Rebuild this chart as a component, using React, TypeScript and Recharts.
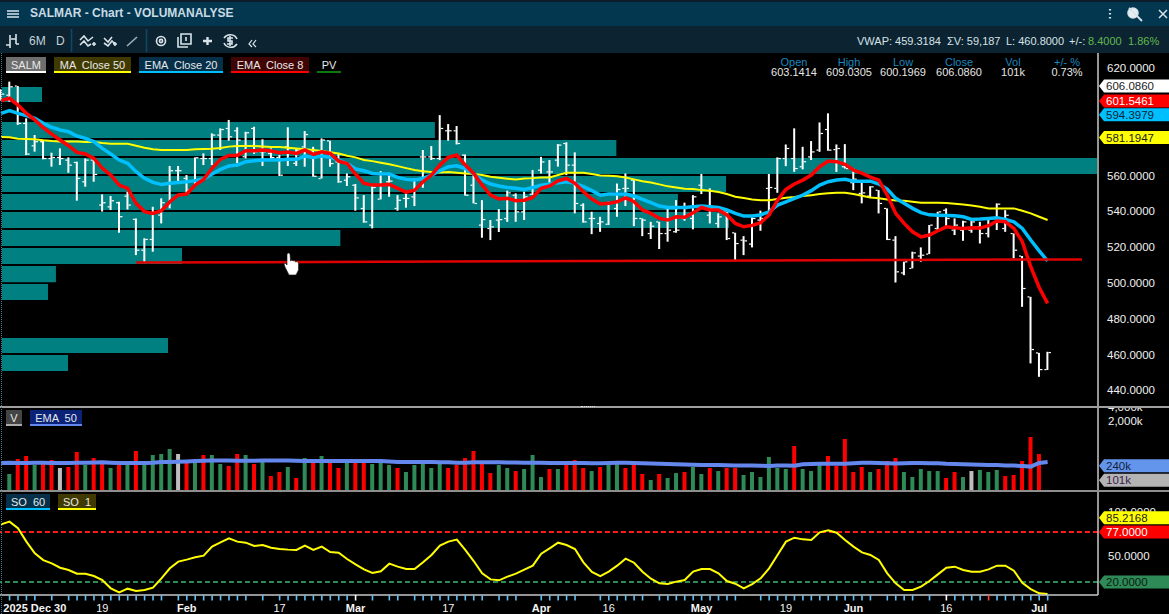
import React from "react";
import { ComposedChart, Bar, Line, Cell, XAxis, YAxis, ReferenceArea, ReferenceLine } from "recharts";

const FONT = '"Liberation Sans", Arial, sans-serif';
const X_DOMAIN: [number, number] = [-1.126, 128.97];
const PV_START = -0.89;

const highs = [608.1,612.4,610,591.9,582.6,579.8,572.7,575.1,570.1,567.7,569.5,568.6,549.4,548.5,545.3,550.9,536,524.9,542.5,547.2,565.3,565.3,560.2,570.1,572.3,583.5,586.3,591,586.9,584.4,587.2,580.2,575.1,571.4,586.9,575.1,
584.8,576,580.7,579.4,572.3,561.1,555.2,549,554.1,562.4,560.2,549,550,558.3,574.2,576.4,593.7,588.7,587.6,571.7,560.2,546.2,535.1,541.2,551.5,550,550.9,563,570.4,568.6,577.5,578.5,572.9,544.4,539.7,536.9,
545.3,555.5,561.1,557.4,536,534.1,534.1,541.6,546.2,544.8,549,560.8,552.8,538.8,539.7,528,526.1,536.6,540.3,560.8,570.1,577.3,586.3,576,579.2,589.6,594.7,577.3,577.5,
564.1,556.5,554,551.8,541.6,526.1,511.8,517.4,519.8,532.3,539.7,541.6,536,534.7,535.4,534.1,536.5,544.4,540.6,527.6,515,492.2,460.9,461.5];
const lows = [601.8,601.2,588.2,571.4,573.3,569,564.9,565.8,561.5,545.9,553.7,556.5,539.8,540.7,528,541,515.5,511.3,517.4,533.2,541.6,556.5,550,553.7,565.8,565.8,574.2,579.4,566.8,569.5,572,565.3,569.5,559.7,565.3,565.3,
564.9,559.3,558.3,564.9,555.9,554.1,540.3,533.6,530.4,546.6,548.1,540.3,542,542.9,553.1,568.6,568.6,579.4,577.3,548.7,544.4,525.2,523.9,528.4,534.1,534.1,535.1,549,561.1,553.7,564.9,560.2,538.8,533.6,527.2,528.5,
532.3,536.9,542.9,531.7,526.1,524.5,518.9,523,528,534.7,529.9,549.6,533.2,530.8,523.9,512.4,515.5,519.8,529.1,537.9,550.3,565.2,562,563.4,568.6,573.2,573.8,562,563.9,
551.8,544.4,547.7,538.8,523.9,500.2,504.3,508.1,511.8,516.1,529.5,531.3,526.7,523.5,528,522,525.4,529.5,528.5,513.6,486.6,455,447.5,451.3];
const opens = [606.2,604.9,610,589.1,576.6,578.9,569.5,570.1,568.6,567.3,556.5,568.6,543.5,542.5,544.8,548.5,535.5,518.3,524.3,537.9,544,562.7,558.4,553.7,569.5,569.5,582.6,586.3,585,570.5,586.3,573.3,572.3,570.1,576.1,566.8,
576,573.2,558.3,579.4,567.6,557.4,554.6,541.6,532.3,546.8,556.5,541.6,547.2,548.1,570.4,570.4,569.5,585,585,571.4,554.6,532.3,530.4,535.1,536,549,539.7,549.6,563,562,568.6,577.9,565.8,543.4,536,533.2,
532.8,541.6,552.8,557.4,536,527.6,534.1,527.6,528.6,536,536,554.6,537.9,533.2,539.7,528,523.9,521.7,535.1,552.8,552.8,569.5,569.5,564.9,570.4,574.2,585.7,574.5,564.9,
556,550,548.5,551.8,541.6,523.9,505.6,508.1,515,516.1,530.4,540.6,529.5,529.5,529.5,531.3,527.6,536,530.4,527.6,515,492.2,460.9,451.6];
const closes = [605.5,609.6,589.1,572,578.9,569.5,570.1,569.5,565.8,558.4,568.6,560.6,544.8,545.9,537,543.5,518.3,524.3,539.8,544.8,562.7,562.7,551.9,569.9,569.5,582.6,585.7,581.6,579.8,583.9,573.3,573.3,570.1,560.2,575.1,574.2,
582.9,559.6,579.8,566.7,556.5,559.3,547.5,534.1,553.3,561.1,556.9,546.2,547.2,557.8,570.4,569.5,586.3,585,577.9,549,544.4,535.4,531.3,535.4,550.3,539.7,548.1,554.1,567.6,562,577,565.8,544.4,534.1,536,534.1,
544.4,552.2,552.8,536,535.1,531.7,527.6,529.5,529.5,541.6,548.1,551.8,541.6,536.9,524.8,522,523.5,536,536,553.3,569.5,575.1,563.9,567.7,573.2,583.5,574.2,575.1,563.9,
558,550.3,553.7,544.4,524.3,506.2,511.8,516.8,515.5,532.3,539.7,536,532.3,534.1,534.1,527.6,536,544,537.8,518.3,496.9,462.8,451.6,461.1];

const ema8 = [601.8,603.1,599.3,594.7,591,586.7,583.1,579.8,576.6,572.9,572,569.5,564,560.2,554.6,552.8,544.4,539.8,538.8,540.3,545.3,549.1,549.6,554.6,557.8,564,569,571.2,571.2,573.8,573.8,574.2,573.6,572.7,573.1,572.3,
574.2,571.8,573.2,572.3,568,566.7,560.8,555.6,554.6,554.6,555,552.8,550.7,551.8,556.5,560.2,565.8,570.1,571.4,565.8,561.1,554.6,549,546.8,547.2,545.9,546.2,547.7,552.8,554.1,557,558.3,555.6,550.9,546.8,544,
544.4,545.3,547.5,545.3,540.7,538.8,536,535.1,536.9,536.6,539.2,542.1,540.7,540.7,537.9,533.2,531.3,532.1,533.6,537.9,546.2,552.2,555.2,557.4,560.2,564.9,568,567.7,566.2,
563,561.3,559.1,557.4,549,538.8,533.2,528.5,525.7,526.7,529.1,531.3,530.8,530.4,530.8,530.6,531.9,534.5,534.1,530.4,523,509,497.4,488.5];
const ema20 = [594.7,596.2,594.7,593.4,591.9,589.1,586.9,585.4,584.4,582,580.7,578.9,575.1,572,568.6,566.8,562.1,558.4,556.1,555,555.6,556.1,556.5,557.1,558,560.8,563.4,565.3,565.8,567.7,568.2,568.6,568.6,568.6,569,569,
570.8,570.1,570.8,570.1,568.6,566.7,563.6,562.6,561.1,560.8,560.8,558.9,557.8,557.4,558.3,560.2,562.6,564.9,565.4,563.9,560.8,557.4,555.2,554.1,553.3,552.8,552.2,553.3,554.6,555.2,555.9,556.5,555.6,553.7,551.5,549,
549.6,549.6,549.6,548.5,546.6,544.8,542.9,542.1,542.1,542.1,542.5,542.9,542.5,542.1,540.7,538.8,537.3,537.3,537.9,539.7,543.4,545.3,547.2,549,551.5,554.6,556.5,557.4,557.8,
556.8,556.8,556.8,555.2,552.4,547.2,544.4,541.6,539.2,538,537.8,537.6,537.5,536.9,535.4,535.6,536,536.4,535.4,534.1,530.4,523.9,517.9,512.2];
const ma50 = [581.5,581.3,580.5,580.3,580.2,579.6,579.2,579,579,579,578.7,578.7,578.1,577.7,577.7,577.7,576.6,575.5,574.6,574.2,574.2,574.2,574.2,574.6,574.8,574.9,575.3,576.1,576.4,576.4,576.4,576.1,575.9,575.9,575.5,575.1,
574.7,574.2,573.6,573,572.3,571,570.1,568.6,568,567.1,566.2,565.2,564.1,563,562.4,561.9,561.7,561.9,561.5,561.1,560.8,560.2,559.3,558.7,558.2,557.8,558.3,558.5,558.9,558.9,560.2,561.5,561.5,561.5,560.8,560,
559.8,559.6,558.9,557.8,556.7,556.1,555,553.9,553.3,552.6,552.4,551.8,551.5,550.7,549.6,548.1,547.4,546.6,546.2,546.2,546.8,547.5,547.9,548.5,549,549.6,550,550.3,550.3,
549.6,548.6,547.7,547.3,546.6,546,545.9,545.3,544.7,544.7,544.7,544.6,544.2,543.8,543.2,542.5,541.6,541.6,541.6,541.6,540.3,538.8,536.9,535.1];

const volumes = [null,145,305,354,227,250,290,195,205,431,227,320,250,195,227,238,453,250,371,390,500,390,290,250,371,371,238,216,390,371,238,276,131,160,205,119,320,290,354,250,195,262,276,250,238,250,227,195,
160,227,238,195,238,195,227,320,453,250,152,227,195,168,186,371,125,186,186,238,290,195,168,205,250,250,195,227,145,108,145,119,152,160,205,145,195,168,195,195,138,160,125,337,195,186,
580,186,168,262,354,216,820,160,205,160,186,276,320,160,125,186,168,168,119,160,125,168,177,160,177,131,138,276,906,390,66];
const volumeKinds = "x" + "grrgrrnrrgrrgrgrggggnrgrggrrgrgrrgrgrgrrgrrgggr" + "gggggrrrrrrggrgggrgrrrgrggrrrgrggrggrgrrgggggg" + "rgggrrrrrgrrrgggggrrgngggrrrrrg";
const ema50Vol = [250,254,250,250,254,254,250,250,250,254,254,256,258,254,250,250,250,250,254,262,262,266,270,276,280,284,284,284,280,280,280,284,284,284,284,280,276,276,276,276,276,276,276,276,276,276,270,264,
262,262,262,262,258,258,254,254,258,258,258,258,256,256,252,252,254,250,250,250,250,250,248,248,250,254,252,250,246,244,240,238,236,232,230,226,226,226,224,222,220,220,218,216,222,220,
218,234,238,240,240,240,240,246,252,252,250,246,244,246,250,250,248,246,240,238,236,232,230,226,226,222,220,216,209,250,262,240].slice(0,125);

const so1 = [85.7,88.8,81.2,66,52.7,45,41.3,36.3,33.7,29.5,29.5,26.8,22.3,12.8,8.2,12.4,9.7,10.9,13.5,24.2,35.6,43.2,45.5,48.1,50,60.3,65.2,69.8,66,64.8,61,62.2,59.1,57.6,56.9,56.5,61.4,56.5,60.3,54.2,53.4,46.2,40.1,34.4,30.3,32.2,40.9,37.5,
34.8,34.8,42.4,50.8,61.4,66,68.3,56.5,43.9,29.9,23,21.9,26.1,29.5,34.1,38.6,52.3,58.4,64.8,62.2,57.6,42.4,31.4,26.8,31.8,38.6,46.6,42,31.8,23.8,18.5,17.7,20.4,22.3,31.8,34.8,34.8,29.9,21.1,18.1,12.8,17.7,24.2,35.6,50.8,66,70.5,
68.6,67.9,76.6,78.9,76.2,67.9,60.3,53.8,50.8,45.1,29.9,18.5,10.9,10.9,14.7,21.1,28.7,36.3,37.5,33.7,31.8,31.8,34.4,38.6,38.6,32.9,19.2,12,7.1,6.3];

const pvTop = [609.4,589.8,579.8,569.7,559.7,549.6,539.6,529.5,519.4,509.4,499.3,469.2,459.7];
const pvBottom = [601,580.9,570.8,560.8,550.7,540.7,530.6,520.6,510.5,500.4,490.4,460.8,450.7];
const pvEnd = [3.85,50.4,71.9,128.85,84.9,79.2,85.25,39.2,20.44,5.5,4.56,18.78,6.93];

const priceTicks = [620,560,540,520,500,480,460,440];
const volTicks = [2000,4000];
const soTicks = [50,100];
const missingTicks = [4,6,19,29,31,42,44,47,57,61,62,68,69,76,87,88,103,108,110];
const xTicks = Array.from({ length: 124 }, (_, k) => k).filter((k) => !missingTicks.includes(k));
const labelAt = [3,11,21,32,41,52,63,71,82,92,100,111,122];
const labelText = ["2025 Dec 30","19","Feb","17","Mar","17","Apr","16","May","19","Jun","16","Jul"];
const boldLabels = ["2025 Dec 30","Feb","Mar","Apr","May","Jun","Jul"];
const trendLine = [{ x: 15, y: 511.3 }, { x: 127.07, y: 513.1 }];

const rows = highs.map((h, k) => ({
  i: k - 1, high: h, low: lows[k], open: opens[k], close: closes[k], range: [lows[k], h],
  ema8: ema8[k], ema20: ema20[k], ma50: ma50[k], vol: volumes[k], emaVol: ema50Vol[k], so: so1[k],
}));

const KIND_COLOR: Record<string, string> = { g: "#2e8b57", r: "#ff0000", n: "#bebebe", x: "#000" };

function OhlcShape(p: any) {
  const { x, y, width, height, payload } = p;
  if (!(height > 0)) return null;
  const cx = x + width / 2;
  const at = (v: number) => y + ((payload.high - v) / (payload.high - payload.low)) * height;
  return (
    <g fill="#fff">
      <rect x={cx - 1} y={y} width={2} height={height} />
      <rect x={cx - 3} y={at(payload.open) - 0.5} width={2} height={1.2} />
      <rect x={cx + 1} y={at(payload.close) - 0.5} width={2.5} height={1.2} />
    </g>
  );
}

function Badge(p: any) {
  const { viewBox, text, fill, color, dy = 0 } = p;
  const x0 = viewBox.x + viewBox.width + 1;
  const y = viewBox.y + dy;
  const h = 6.5;
  return (
    <g>
      <path d={`M${x0} ${y} L${x0 + 5} ${y - h} L1169 ${y - h} L1169 ${y + h} L${x0 + 5} ${y + h} Z`} fill={fill} />
      <text x={x0 + 7} y={y + 4} fontSize={11.5} fontFamily={FONT} fill={color}>{text}</text>
    </g>
  );
}

function XTick(p: any) {
  const { x, y, payload } = p;
  const idx = labelAt.indexOf(payload.value);
  const v = payload.value;
  const c = v === 116 ? "#ff4040" : v === 41 || v === 111 ? "#ffffff" : "#5fc0f5";
  const t = idx >= 0 ? labelText[idx] : null;
  return (
    <g>
      <rect x={x - 0.75} y={y} width={1.6} height={5.5} fill={c} />
      {t ? (
        <text x={x} y={y + 17} textAnchor="middle" fontSize={11} fontFamily={FONT} fontWeight={boldLabels.includes(t) ? 700 : 400} fill="#f4f4f4">{t}</text>
      ) : null}
    </g>
  );
}

const axisTick = { fill: "#f0f0f0", fontSize: 11.5, fontFamily: FONT };

function Tag({ x, y, w, h = 16, text, bg, line, color = "#e8e8e8" }: any) {
  return (
    <div style={{ position: "absolute", left: x, top: y, width: w, height: h - 2, background: bg, borderBottom: `2px solid ${line}`, color, fontSize: 11, lineHeight: "16px", textAlign: "center", whiteSpace: "pre", fontFamily: FONT }}>{text}</div>
  );
}

function Abs({ x, y, children, style }: any) {
  return <div style={{ position: "absolute", left: x, top: y, fontFamily: FONT, whiteSpace: "pre", ...style }}>{children}</div>;
}

const headCols = [["Open","603.1414",794],["High","609.0305",849],["Low","600.1969",903],["Close","606.0860",959],["Vol","101k",1013],["+/- %","0.73%",1067]] as const;
const statusItems = [["VWAP: 459.3184",857,"#d6e2e8"],["ΣV: 59,187",947,"#d6e2e8"],["L: 460.8000",1006,"#d6e2e8"],["+/-:",1069,"#d6e2e8"],["8.4000",1088,"#62b84f"],["1.86%",1128,"#62b84f"]] as const;

export default function App() {
  return (
    <div style={{ position: "absolute", left: 0, top: 0, width: 1169, height: 614, background: "#000", overflow: "hidden", fontFamily: FONT }}>
      {/* title bar */}
      <div style={{ position: "absolute", left: 0, top: 0, width: 1169, height: 2, background: "#0a1d29" }} />
      <div style={{ position: "absolute", left: 0, top: 2, width: 1169, height: 24, background: "#03374f" }} />
      <div style={{ position: "absolute", left: 0, top: 26, width: 1169, height: 27, background: "#0c2431" }} />
      <Abs x={30} y={6} style={{ color: "#c9dbe4", fontSize: 12, fontWeight: 700, lineHeight: "14px" }}>SALMAR - Chart - VOLUMANALYSE</Abs>
      <Abs x={29} y={34} style={{ color: "#c4d2da", fontSize: 12, lineHeight: "14px" }}>6M</Abs>
      <Abs x={56} y={34} style={{ color: "#c4d2da", fontSize: 12, lineHeight: "14px" }}>D</Abs>
      <svg style={{ position: "absolute", left: 0, top: 0 }} width={1169} height={53}>
        <g stroke="#d8e4ea" strokeWidth={1.6} fill="none">
          <path d="M7 11 H19 M7 14 H19 M7 17 H19" />
          <path d="M6 45 H10 V35 M10 45 V48 M11 39 H16 M16 34 V44 M16 44 H19" />
          <path d="M80 40 L84 36 L88 41 L93 37 M80 45 L84 41 L88 46 L91 44 M92 44 H96 M94 42 V46" />
          <path d="M104 38 L108 42 L112 37 M104 43 L108 46 L112 41 L115 44 M113 44 H117 M115 42 V46" />
          <path d="M127 46 L137 37" stroke="#9fb0b9" />
          <circle cx={161} cy={41} r={4.5} /><circle cx={161} cy={41} r={1.6} />
          <path d="M178 37 V47 H188 M181 34 H191 V44 H181 Z" />
          <path d="M186 37 V41" />
          <path d="M203 41 H212 M207.5 37 V45" strokeWidth={2.4} />
          <path d="M224 38 A7.5 7.5 0 0 1 237 39 M237 44 A7.5 7.5 0 0 1 224 43 M230 36 V46 M233 38 H228 V41 H232 V44 H227" />
          <path d="M252 40 L249 44 L252 47 M256 40 L253 44 L256 47" strokeWidth={1.2} />
          <path d="M71.5 29 V52 M146.5 29 V52" stroke="#0d4a68" strokeWidth={1.5} />
          <path d="M1110 9 V10.5 M1110 13 V14.5 M1110 17 V18.5" strokeWidth={2.2} />
          <circle cx={1133} cy={13} r={5} fill="#e6eef2" /><path d="M1129 8 L1142 21" strokeWidth={1.8} />
          <path d="M1159 10 L1167 18 M1167 10 L1159 18" strokeWidth={1.5} />
        </g>
      </svg>
      {statusItems.map(([t, x, c]) => (
        <Abs key={t} x={x} y={34} style={{ color: c, fontSize: 11, lineHeight: "14px" }}>{t}</Abs>
      ))}

      {/* price panel */}
      <div style={{ position: "absolute", left: 0, top: 53 }}>
        <ComposedChart width={1169} height={353} data={rows} margin={{ top: 0, right: 0, bottom: 0, left: 0 }}>
          <XAxis dataKey="i" type="number" domain={X_DOMAIN} allowDataOverflow hide />
          <YAxis orientation="right" width={71} domain={[431.2, 628.4]} allowDataOverflow ticks={priceTicks} interval={0}
            tickFormatter={(v: number) => v.toFixed(4)} tick={axisTick} tickSize={0} tickMargin={9}
            axisLine={{ stroke: "#c8c8c8", strokeWidth: 1.5 }} tickLine={false} />
          {pvEnd.map((e, k) => (
            <ReferenceArea key={k} x1={PV_START} x2={e} y1={pvBottom[k]} y2={pvTop[k]} fill="#008080" fillOpacity={1} stroke="none" />
          ))}
          <Bar dataKey="range" barSize={2} shape={OhlcShape} isAnimationActive={false} />
          <Line dataKey="ma50" stroke="#ffff00" strokeWidth={2} dot={false} isAnimationActive={false} />
          <Line dataKey="ema20" stroke="#00bfff" strokeWidth={3.5} dot={false} isAnimationActive={false} />
          <Line dataKey="ema8" stroke="#ff0000" strokeWidth={3.5} dot={false} isAnimationActive={false} />
          <ReferenceLine segment={trendLine} stroke="#e00000" strokeWidth={2.5} ifOverflow="visible" />
          <ReferenceLine y={606.086} stroke="none" label={<Badge text="606.0860" fill="#ffffff" color="#222" dy={-7} />} />
          <ReferenceLine y={601.5461} stroke="none" label={<Badge text="601.5461" fill="#ff0000" color="#fff" />} />
          <ReferenceLine y={594.3979} stroke="none" label={<Badge text="594.3979" fill="#00bfff" color="#123" dy={1} />} />
          <ReferenceLine y={581.1947} stroke="none" label={<Badge text="581.1947" fill="#ffff00" color="#222" />} />
        </ComposedChart>
      </div>

      {/* volume panel */}
      <div style={{ position: "absolute", left: 0, top: 407 }}>
        <ComposedChart width={1169} height={84} data={rows} margin={{ top: 0, right: 0, bottom: 0, left: 0 }}>
          <XAxis dataKey="i" type="number" domain={X_DOMAIN} allowDataOverflow hide />
          <YAxis orientation="right" width={71} scale="log" domain={[62.5, 4000]} allowDataOverflow ticks={volTicks} interval={0}
            tickFormatter={(v: number) => `${v.toLocaleString("en-US")}k`} tick={axisTick} tickSize={0} tickMargin={10}
            axisLine={{ stroke: "#c8c8c8", strokeWidth: 1.5 }} tickLine={false} />
          <Bar dataKey="vol" barSize={4} isAnimationActive={false}>
            {rows.map((r, k) => <Cell key={k} fill={KIND_COLOR[volumeKinds[k]]} />)}
          </Bar>
          <Line dataKey="emaVol" stroke="#6487ee" strokeWidth={4} dot={false} isAnimationActive={false} />
          <ReferenceLine y={240} stroke="none" label={<Badge text="240k" fill="#6495ed" color="#12203a" dy={2} />} />
          <ReferenceLine y={101} stroke="none" label={<Badge text="101k" fill="#b4b4b4" color="#3a1a4a" dy={-1} />} />
        </ComposedChart>
      </div>

      {/* stochastic panel */}
      <div style={{ position: "absolute", left: 0, top: 491 }}>
        <ComposedChart width={1169} height={123} data={rows} margin={{ top: 0, right: 0, bottom: 0, left: 0 }}>
          <XAxis dataKey="i" type="number" domain={X_DOMAIN} allowDataOverflow ticks={xTicks} interval={0} height={19}
            tick={XTick} tickSize={0} tickMargin={0} tickLine={false} axisLine={{ stroke: "#c8c8c8", strokeWidth: 1.5 }} />
          <YAxis orientation="right" width={71} domain={[5.2, 123.7]} allowDataOverflow ticks={soTicks} interval={0}
            tickFormatter={(v: number) => v.toFixed(4)} tick={axisTick} tickSize={0} tickMargin={10}
            axisLine={{ stroke: "#c8c8c8", strokeWidth: 1.5 }} tickLine={false} />
          <ReferenceLine y={77} stroke="#ff1a1a" strokeWidth={2} strokeDasharray="5 3" label={<Badge text="77.0000" fill="#ff0000" color="#fff" />} />
          <ReferenceLine y={20} stroke="#2e8b57" strokeWidth={2} strokeDasharray="5 3" label={<Badge text="20.0000" fill="#2e8b57" color="#0c1a12" />} />
          <Line dataKey="so" stroke="#ffff00" strokeWidth={2} dot={false} isAnimationActive={false} />
        </ComposedChart>
      </div>
      {/* the SO 1 badge lies over the 100 tick, as in the terminal */}
      <div style={{ position: "absolute", left: 0, top: 491 }}>
        <ComposedChart width={1169} height={123} data={rows} margin={{ top: 0, right: 71, bottom: 19, left: 0 }}>
          <XAxis dataKey="i" type="number" domain={X_DOMAIN} allowDataOverflow hide />
          <YAxis domain={[5.2, 123.7]} allowDataOverflow hide />
          <ReferenceLine y={85.2168} stroke="none" label={<Badge text="85.2168" fill="#ffff00" color="#222" dy={-7} />} />
        </ComposedChart>
      </div>

      {/* dividers */}
      <div style={{ position: "absolute", left: 0, top: 406, width: 1169, height: 2, background: "#a0a0a0" }} />
      <div style={{ position: "absolute", left: 0, top: 490, width: 1169, height: 2, background: "#8e8e8e" }} />
      <div style={{ position: "absolute", left: 581, top: 406, width: 14, height: 1, borderTop: "1px dotted #e0e0e0" }} />
      <div style={{ position: "absolute", left: 1, top: 53, width: 0, height: 561, borderLeft: "1px dotted #3f7f94" }} />

      {/* legends */}
      <Tag x={6} y={57} w={40} text="SALM" bg="#6e6e6e" line="#ffffff" />
      <Tag x={54} y={57} w={77} text="MA  Close 50" bg="#403a00" line="#ffff00" />
      <Tag x={139} y={57} w={84} text="EMA  Close 20" bg="#06304a" line="#00bfff" />
      <Tag x={231} y={57} w={78} text="EMA  Close 8" bg="#400404" line="#ff0000" />
      <Tag x={317} y={57} w={24} text="PV" bg="#000" line="#0a7a0a" />
      <Tag x={6} y={410} w={16} text="V" bg="#444" line="#aaa" />
      <Tag x={30} y={410} w={52} text="EMA  50" bg="#0a2278" line="#6487ee" />
      <Tag x={6} y={494} w={44} text="SO  60" bg="#06304a" line="#00bfff" />
      <Tag x={58} y={494} w={38} text="SO  1" bg="#403a00" line="#ffff00" />

      {/* header values */}
      {headCols.map(([a, b, x]) => (
        <div key={a} style={{ position: "absolute", left: x - 40, top: 57, width: 80, textAlign: "center", fontSize: 11, lineHeight: "10px", fontFamily: FONT }}>
          <div style={{ color: "#1b87bf" }}>{a}</div>
          <div style={{ color: "#e6e6e6" }}>{b}</div>
        </div>
      ))}

      {/* mouse pointer */}
      <svg style={{ position: "absolute", left: 283, top: 252 }} width={18} height={24}>
        <path d="M4 2 Q6 0 7 2 L7.5 9 L9 8 L10 9 L11.5 8.5 L12.5 10 L14 9.5 L15.5 11 L15.5 18 L13 23 L6 23 L2 15 L1 12 Q2 10 4 13 Z" fill="#fff" stroke="#111" strokeWidth={0.6} />
      </svg>
    </div>
  );
}
